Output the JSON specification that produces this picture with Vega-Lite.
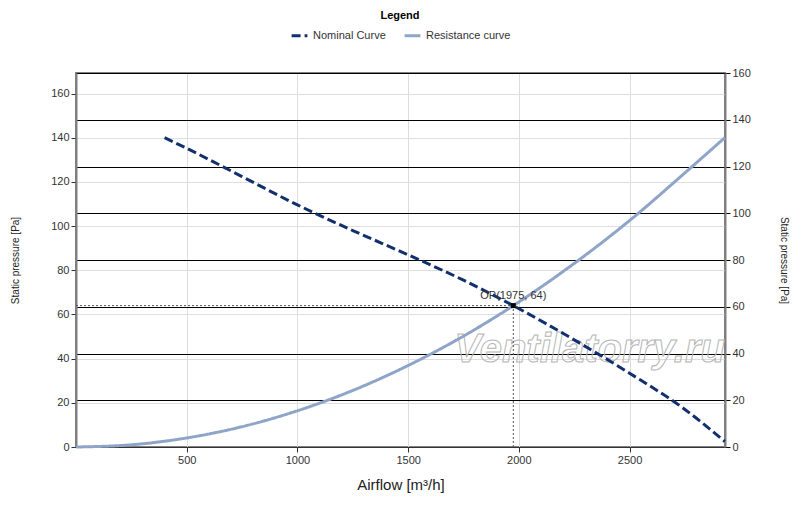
{
  "$schema": "https://vega.github.io/schema/vega-lite/v6.json",
  "description": "Fan curve vs resistance curve with operating point.",
  "width": 649,
  "height": 374,
  "autosize": "none",
  "padding": {"left": 76, "top": 73, "right": 75, "bottom": 60},
  "config": {
    "font": "Liberation Sans",
    "view": {"stroke": "#808080", "strokeWidth": 2},
    "axis": {
      "labelFont": "Liberation Sans",
      "titleFont": "Liberation Sans",
      "labelFontSize": 11,
      "labelColor": "#333333",
      "titleColor": "#222222",
      "titleFontWeight": "normal",
      "tickSize": 5,
      "labelPadding": 2
    }
  },
  "datasets": {
    "curves": [
      {"series": "Nominal Curve", "x": 400, "y": 140},
      {"series": "Nominal Curve", "x": 500, "y": 135.2},
      {"series": "Nominal Curve", "x": 750, "y": 122.4},
      {"series": "Nominal Curve", "x": 1000, "y": 109.6},
      {"series": "Nominal Curve", "x": 1250, "y": 98},
      {"series": "Nominal Curve", "x": 1500, "y": 87},
      {"series": "Nominal Curve", "x": 1750, "y": 75.5},
      {"series": "Nominal Curve", "x": 1975, "y": 64},
      {"series": "Nominal Curve", "x": 2250, "y": 48.5},
      {"series": "Nominal Curve", "x": 2500, "y": 33.4},
      {"series": "Nominal Curve", "x": 2750, "y": 17},
      {"series": "Nominal Curve", "x": 2930, "y": 2.5},
      {"series": "Resistance curve", "x": 0, "y": 0},
      {"series": "Resistance curve", "x": 250, "y": 1},
      {"series": "Resistance curve", "x": 500, "y": 4.1},
      {"series": "Resistance curve", "x": 750, "y": 9.2},
      {"series": "Resistance curve", "x": 1000, "y": 16.4},
      {"series": "Resistance curve", "x": 1250, "y": 25.6},
      {"series": "Resistance curve", "x": 1500, "y": 36.9},
      {"series": "Resistance curve", "x": 1750, "y": 50.2},
      {"series": "Resistance curve", "x": 1975, "y": 64},
      {"series": "Resistance curve", "x": 2250, "y": 83.1},
      {"series": "Resistance curve", "x": 2500, "y": 102.5},
      {"series": "Resistance curve", "x": 2750, "y": 124.1},
      {"series": "Resistance curve", "x": 2930, "y": 140}
    ],
    "op": [
      {"x": 0, "y": 64, "x2": 1975, "y2": 64},
      {"x": 1975, "y": 0, "x2": 1975, "y2": 64}
    ],
    "point": [{"x": 1975, "y": 64, "label": "OP(1975, 64)"}],
    "mark": [{"x": 2320, "y": 38.5, "label": "Ventilatorry.ru"}]
  },
  "layer": [
    {
      "encoding": {
        "x": {
          "field": "x",
          "type": "quantitative",
          "scale": {"domain": [0, 2931], "nice": false, "zero": false},
          "axis": {
            "title": "Airflow [m³/h]",
            "titleFontSize": 15,
            "titlePadding": 12,
            "format": "d",
            "values": [500, 1000, 1500, 2000, 2500],
            "grid": true,
            "gridColor": "#dcdcdc",
            "domainColor": "#333333",
            "tickColor": "#333333"
          }
        },
        "y": {
          "field": "y",
          "type": "quantitative",
          "scale": {"domain": [0, 169.3], "nice": false},
          "axis": {
            "title": "Static pressure [Pa]",
            "titleFontSize": 10,
            "titlePadding": 30,
            "values": [0, 20, 40, 60, 80, 100, 120, 140, 160],
            "grid": true,
            "gridColor": "#dedede",
            "domainColor": "#808080",
            "domainWidth": 2,
            "tickColor": "#333333"
          }
        }
      },
      "layer": [
        {
          "data": {"name": "mark"},
          "mark": {
            "type": "text",
            "fontSize": 40,
            "fontStyle": "italic",
            "fontWeight": "bold",
            "align": "center",
            "baseline": "alphabetic",
            "fill": "#ffffff",
            "fillOpacity": 0,
            "stroke": "#b5b5b5",
            "strokeWidth": 1,
            "clip": true
          },
          "encoding": {"text": {"field": "label"}}
        },
        {
          "data": {"name": "op"},
          "mark": {"type": "rule", "color": "#555555", "strokeDash": [2, 2], "strokeWidth": 1},
          "encoding": {
            "x2": {"field": "x2"},
            "y2": {"field": "y2"}
          }
        },
        {
          "data": {"name": "curves"},
          "mark": {"type": "line", "strokeWidth": 3, "interpolate": "monotone"},
          "encoding": {
            "color": {
              "field": "series",
              "type": "nominal",
              "scale": {"domain": ["Nominal Curve", "Resistance curve"], "range": ["#13306e", "#8ea4c8"]},
              "legend": {
                "title": "Legend",
                "orient": "none",
                "legendX": 214,
                "legendY": -63,
                "direction": "horizontal",
                "titleAnchor": "middle",
                "titleOrient": "top",
                "titleFontSize": 11,
                "titleFontWeight": "bold",
                "titleColor": "#000000",
                "labelFontSize": 11,
                "labelColor": "#333333",
                "symbolType": "stroke",
                "symbolStrokeWidth": 3,
                "symbolSize": 250,
                "columnPadding": 12
              }
            },
            "strokeDash": {
              "field": "series",
              "type": "nominal",
              "scale": {"domain": ["Nominal Curve", "Resistance curve"], "range": [[9, 4], [1, 0]]},
              "legend": {
                "title": "Legend",
                "orient": "none",
                "legendX": 214,
                "legendY": -63,
                "direction": "horizontal",
                "titleAnchor": "middle",
                "titleOrient": "top",
                "titleFontSize": 11,
                "titleFontWeight": "bold",
                "titleColor": "#000000",
                "labelFontSize": 11,
                "labelColor": "#333333",
                "symbolType": "stroke",
                "symbolStrokeWidth": 3,
                "symbolSize": 250,
                "columnPadding": 12
              }
            }
          }
        },
        {
          "data": {"name": "point"},
          "mark": {"type": "square", "color": "#000000", "size": 25, "opacity": 1},
          "encoding": {}
        },
        {
          "data": {"name": "point"},
          "mark": {"type": "text", "fontSize": 11, "color": "#333333", "baseline": "bottom", "align": "center", "dy": -5},
          "encoding": {"text": {"field": "label"}}
        }
      ]
    },
    {
      "data": {"values": [{"v": 0}, {"v": 160}]},
      "mark": {"type": "point", "opacity": 0},
      "encoding": {
        "y": {
          "field": "v",
          "type": "quantitative",
          "scale": {"domain": [0, 160], "nice": false},
          "axis": {
            "orient": "right",
            "title": "Static pressure [Pa]",
            "titleFontSize": 10,
            "titleAngle": 90,
            "titlePadding": 28,
            "values": [0, 20, 40, 60, 80, 100, 120, 140, 160],
            "grid": true,
            "gridColor": "#000000",
            "gridWidth": 1,
            "domainColor": "#808080",
            "domainWidth": 2,
            "tickColor": "#000000"
          }
        }
      }
    }
  ],
  "resolve": {"scale": {"y": "independent"}, "axis": {"y": "independent"}}
}
